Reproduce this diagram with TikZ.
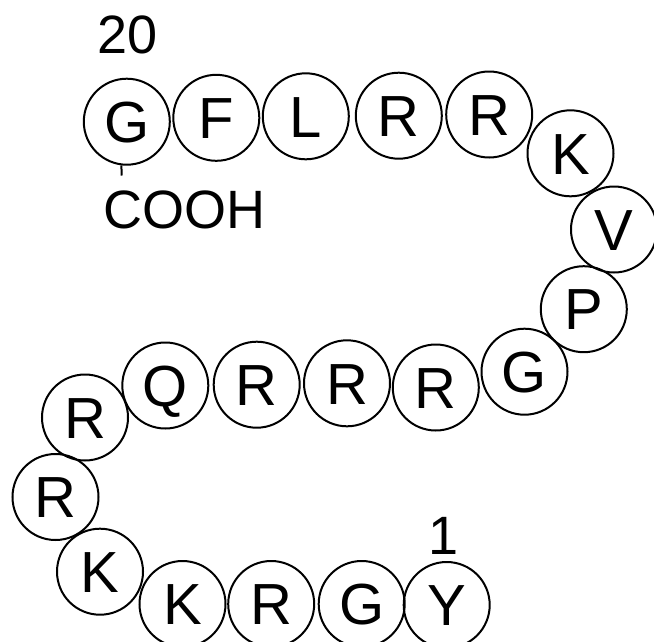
\documentclass[tikz,border=0pt]{standalone}
\usepackage{fontspec}
\setmainfont{Liberation Sans}
\begin{document}
\begin{tikzpicture}[res/.style={draw,circle,minimum size=86pt,inner sep=0pt,line width=2pt,font=\fontsize{58}{58}\selectfont,text height=41.5pt,text depth=0pt}, tag/.style={inner sep=0pt,font=\fontsize{54}{54}\selectfont}, x=1pt, y=-1pt]
      \useasboundingbox (0,0) rectangle (654,641);
      \node[res] (r1) at (446.7,605) {Y};
      \node[res] (r2) at (361.7,604) {G};
      \node[res] (r3) at (271.2,604) {R};
      \node[res] (r4) at (182.5,604) {K};
      \node[res] (r5) at (100,571.7) {K};
      \node[res] (r6) at (55.5,497) {R};
      \node[res] (r7) at (85,417.5) {R};
      \node[res] (r8) at (165.3,385.5) {Q};
      \node[res] (r9) at (256.7,384.7) {R};
      \node[res] (r10) at (347,383.3) {R};
      \node[res] (r11) at (435.8,387.5) {R};
      \node[res] (r12) at (524.5,371.7) {G};
      \node[res] (r13) at (583.8,309.2) {P};
      \node[res] (r14) at (614,229.5) {V};
      \node[res] (r15) at (570.5,153.3) {K};
      \node[res] (r16) at (489.2,114.5) {R};
      \node[res] (r17) at (398.8,115.7) {R};
      \node[res] (r18) at (305.8,116.3) {L};
      \node[res] (r19) at (216.3,117.8) {F};
      \node[res] (r20) at (126.8,121.7) {G};
      \node[tag] (n1) at (444,536) {1};
      \node[tag] (n20) at (127.5,35) {20};
      \node[tag] (cooh) at (184.5,210) {COOH};
      \coordinate (bond) at (121.6,175.5);
      \draw[line width=2pt] (r20.263) -- (bond);
    \end{tikzpicture}
\end{document}
